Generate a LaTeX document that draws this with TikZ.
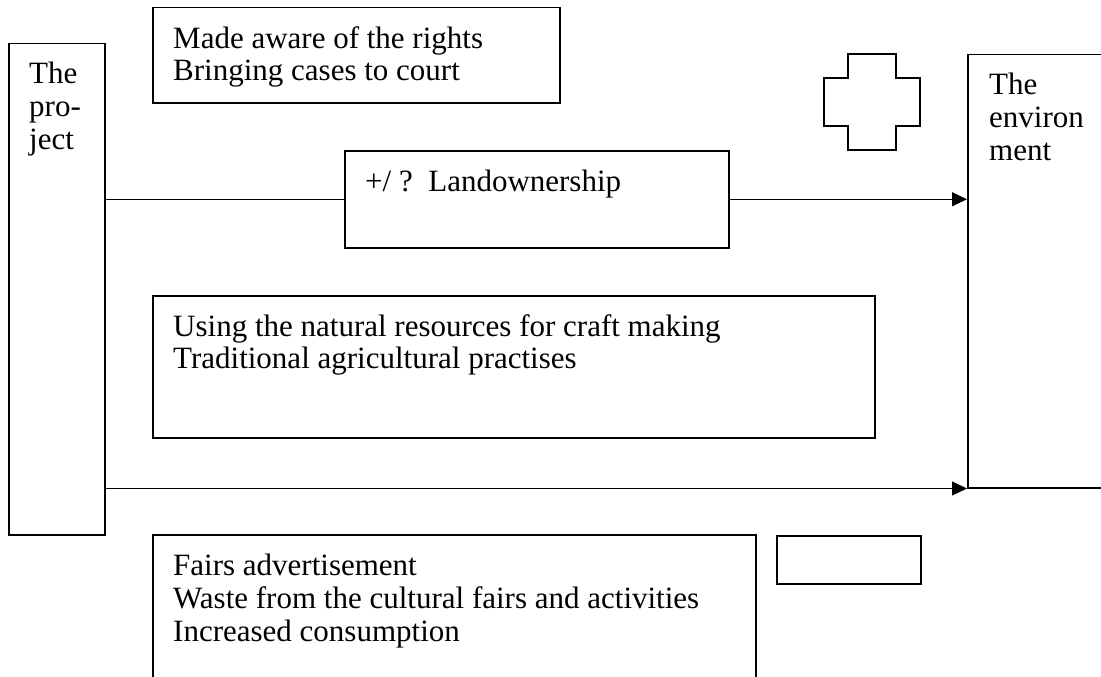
\documentclass[tikz,border=0pt]{standalone}
\usepackage{fontspec}
\setmainfont{Liberation Serif}
\usetikzlibrary{arrows.meta}
\begin{document}
\begin{tikzpicture}[x=1pt,y=-1pt,
  box/.style={draw=black,line width=1.5pt,rectangle,inner sep=0pt,anchor=north west},
  txt/.style={anchor=north west,inner sep=0pt,align=left,font=\fontsize{31}{32.7}\selectfont},
  conn/.style={draw=black,line width=1pt},
  arr/.style={conn,-{Triangle[length=15pt,width=14pt]}}]
\useasboundingbox (0,0) rectangle (1101,677);
% boxes
\node[box,minimum width=96pt,minimum height=491pt] (proj) at (8,43) {};
\node[box,minimum width=407pt,minimum height=95pt] (rights) at (152,7) {};
\node[box,minimum width=150pt,minimum height=433pt] (env) at (967,54) {};
\node[box,minimum width=384pt,minimum height=97pt] (land) at (344,150) {};
\node[box,minimum width=722pt,minimum height=142pt] (res) at (152,295) {};
\node[box,minimum width=603pt,minimum height=160pt] (fairs) at (152,534) {};
\node[box,minimum width=144pt,minimum height=48pt] (small) at (776,535) {};
% cross
\draw[line width=1.5pt,line join=miter] (848,54) -- (896,54) -- (896,78) -- (920,78) -- (920,126) -- (896,126) -- (896,150) -- (848,150) -- (848,126) -- (824,126) -- (824,78) -- (848,78) -- cycle;
% texts
\node[txt] (projt) at (29,62) {The\\pro-\\ject};
\node[txt] (rightst) at (173,26) {Made aware of the rights\\Bringing cases to court};
\node[txt] (envt) at (989,73) {The\\environ\\ment};
\node[txt] (landt) at (365,170) {+/ ?\ \ Landownership};
\node[txt] (rest) at (173,314) {Using the natural resources for craft making\\Traditional agricultural practises};
\node[txt] (fairst) at (173,554) {Fairs advertisement\\Waste from the cultural fairs and activities\\Increased consumption};
% connectors
\draw[conn] (proj.east |- land.west) -- (land.west);
\draw[arr] (land.east) -- (land.east -| env.west);
\draw[arr] (proj.east |- env.south west) -- (env.south west);
\end{tikzpicture}
\end{document}
